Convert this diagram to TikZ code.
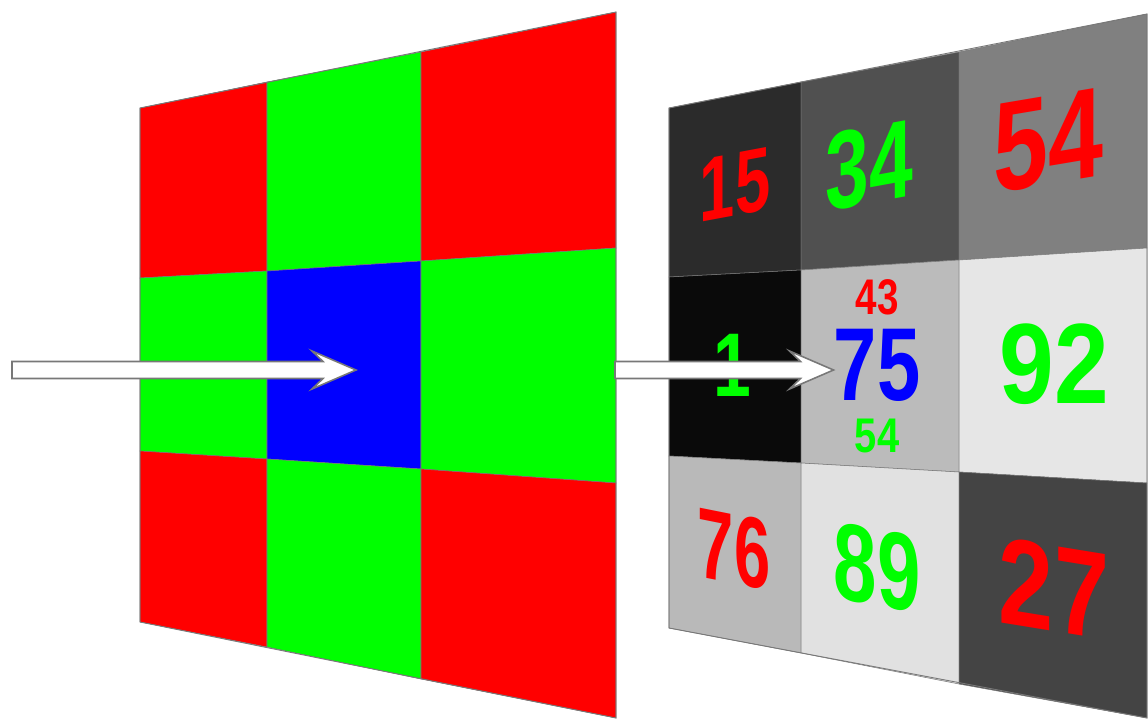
\documentclass[tikz,border=0pt]{standalone}
\usepackage{fontspec}
\setmainfont{Liberation Sans}
\usetikzlibrary{calc,positioning}
\definecolor{pxRed}{RGB}{255,0,0}
\definecolor{pxGreen}{RGB}{0,255,0}
\definecolor{pxBlue}{RGB}{0,0,255}
\definecolor{pxEdge}{RGB}{120,120,120}
\definecolor{lumA}{RGB}{43,43,43}
\definecolor{lumB}{RGB}{80,80,80}
\definecolor{lumC}{RGB}{128,128,128}
\definecolor{lumD}{RGB}{10,10,10}
\definecolor{lumE}{RGB}{187,187,187}
\definecolor{lumF}{RGB}{230,230,230}
\definecolor{lumG}{RGB}{185,185,185}
\definecolor{lumH}{RGB}{225,225,225}
\definecolor{lumI}{RGB}{68,68,68}
\newcommand{\gridcell}[5]{%
  \draw[fill=#5,draw=pxEdge,line width=0.3pt] (#1)--(#2)--(#3)--(#4)--cycle;
}
\newcommand{\pixarrow}[2]{%
  \draw[fill=white,draw=pxEdge,line width=0.9pt]
    ($(#1)+(0,-8.5)$)--($(#2)+(-33,-8.5)$)--($(#2)+(-44,-19)$)--(#2)
    --($(#2)+(-44,19)$)--($(#2)+(-33,8.5)$)--($(#1)+(0,8.5)$)--cycle;
}
\tikzset{num/.style={inner sep=0pt,font=\fontsize{#1}{#1}\selectfont\bfseries}}

\begin{document}
\begin{tikzpicture}[x=0.02cm,y=-0.02cm]
  \useasboundingbox (0,0) rectangle (1148,720);
  % sensor mosaic
  \coordinate (l00) at (140,108); \coordinate (l10) at (267,82);
  \coordinate (l20) at (421,52);  \coordinate (l30) at (616,12);
  \coordinate (l01) at (140,278); \coordinate (l11) at (267,271);
  \coordinate (l21) at (421,261); \coordinate (l31) at (616,248);
  \coordinate (l02) at (140,451); \coordinate (l12) at (267,459);
  \coordinate (l22) at (421,469); \coordinate (l32) at (616,483);
  \coordinate (l03) at (140,622); \coordinate (l13) at (267,647);
  \coordinate (l23) at (421,679); \coordinate (l33) at (616,718);
  \gridcell{l00}{l10}{l11}{l01}{pxRed}
  \gridcell{l10}{l20}{l21}{l11}{pxGreen}
  \gridcell{l20}{l30}{l31}{l21}{pxRed}
  \gridcell{l01}{l11}{l12}{l02}{pxGreen}
  \gridcell{l11}{l21}{l22}{l12}{pxBlue}
  \gridcell{l21}{l31}{l32}{l22}{pxGreen}
  \gridcell{l02}{l12}{l13}{l03}{pxRed}
  \gridcell{l12}{l22}{l23}{l13}{pxGreen}
  \gridcell{l22}{l32}{l33}{l23}{pxRed}
  \draw[pxEdge,line width=0.5pt] (l00)--(l30)--(l33)--(l03)--cycle;
  % intensity values
  \coordinate (r00) at (669,108); \coordinate (r10) at (801,82);
  \coordinate (r20) at (959,52);  \coordinate (r30) at (1147,14);
  \coordinate (r01) at (669,277); \coordinate (r11) at (801,270);
  \coordinate (r21) at (959,260); \coordinate (r31) at (1147,248);
  \coordinate (r02) at (669,456); \coordinate (r12) at (801,463);
  \coordinate (r22) at (959,472); \coordinate (r32) at (1147,483);
  \coordinate (r03) at (669,628); \coordinate (r13) at (801,653);
  \coordinate (r23) at (959,684); \coordinate (r33) at (1147,718);
  \gridcell{r00}{r10}{r11}{r01}{lumA}
  \gridcell{r10}{r20}{r21}{r11}{lumB}
  \gridcell{r20}{r30}{r31}{r21}{lumC}
  \gridcell{r01}{r11}{r12}{r02}{lumD}
  \gridcell{r11}{r21}{r22}{r12}{lumE}
  \gridcell{r21}{r31}{r32}{r22}{lumF}
  \gridcell{r02}{r12}{r13}{r03}{lumG}
  \gridcell{r12}{r22}{r23}{r13}{lumH}
  \gridcell{r22}{r32}{r33}{r23}{lumI}
  \draw[pxEdge,line width=0.5pt] (r00)--(r30)--(r33)--(r03)--cycle;
  \node[num=51.5,text=pxRed,xscale=0.70,yslant=0.13] (n15) at (735,185) {15};
  \node[num=63,text=pxGreen,xscale=0.71,yslant=0.13] (n34) at (869,165) {34};
  \node[num=73,text=pxRed,xscale=0.77,yslant=0.13] (n54a) at (1048,141) {54};
  \node[num=51.5,text=pxGreen,xscale=0.75] (n1) at (732,365) {1};
  \node[num=28.5,text=pxRed,xscale=0.77] (n43) at (877,297) {43};
  \node[num=59,text=pxBlue,xscale=0.75] (n75) at (877,365) {75};
  \node[num=27.7,text=pxGreen,xscale=0.82] (n54b) at (877,436) {54};
  \node[num=65,text=pxGreen,xscale=0.86] (n92) at (1054,364) {92};
  \node[num=57,text=pxRed,xscale=0.65,yslant=-0.13] (n76) at (734,549) {76};
  \node[num=62.5,text=pxGreen,xscale=0.71,yslant=-0.13] (n89) at (877,568) {89};
  \node[num=70.5,text=pxRed,xscale=0.80,yslant=-0.13] (n27) at (1054,588) {27};
  % arrows
  \coordinate (srcA) at (12,370);
  \coordinate (tipA) at (356,370);
  \coordinate (srcB) at (615,370);
  \coordinate (tipB) at (n75.west |- srcB);
  \pixarrow{srcA}{tipA}
  \pixarrow{srcB}{tipB}
\end{tikzpicture}
\end{document}
